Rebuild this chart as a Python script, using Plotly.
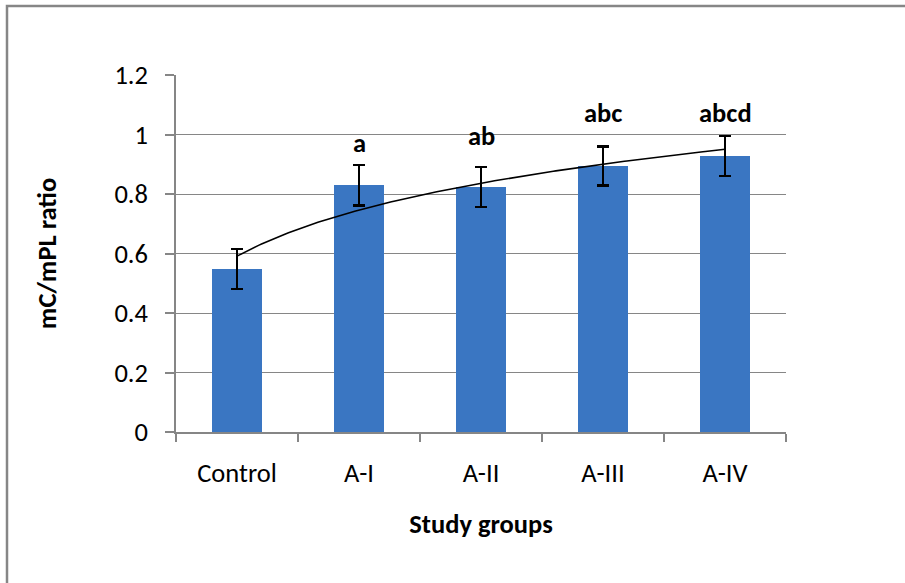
import numpy as np
import plotly.graph_objects as go

categories = ["Control", "A-I", "A-II", "A-III", "A-IV"]
values = [0.548, 0.830, 0.824, 0.894, 0.928]
errors = [0.067, 0.068, 0.067, 0.066, 0.067]
letters = ["", "a", "ab", "abc", "abcd"]
letter_y = [None, 0.97, 0.995, 1.072, 1.072]
ytick_vals = [0, 0.2, 0.4, 0.6, 0.8, 1.0, 1.2]
ytick_text = ["0", "0.2", "0.4", "0.6", "0.8", "1", "1.2"]

FONT = "Carlito, Calibri, Lato, sans-serif"
FS = 26.5
GRAY = "#868686"

xpos = list(range(len(categories)))

# logarithmic trendline (Excel style), fitted to the bar values
a, b = np.polyfit(np.log(np.array(xpos) + 1.0), np.array(values), 1)
xt = np.linspace(0, len(categories) - 1, 200)
yt = a * np.log(xt + 1.0) + b

fig = go.Figure()
fig.add_trace(go.Bar(
    x=xpos, y=values, width=0.41,
    marker=dict(color="#3a76c2", line=dict(width=0)),
    error_y=dict(type="data", array=errors, visible=True,
                 color="black", thickness=2.5, width=6),
    showlegend=False,
))
fig.add_trace(go.Scatter(
    x=xt, y=yt, mode="lines", line=dict(color="black", width=1.6),
    showlegend=False, hoverinfo="skip",
))
# invisible trace on xaxis2 for boundary tick marks
fig.add_trace(go.Scatter(x=[-0.5, 4.5], y=[0, 0], xaxis="x2", mode="markers",
                         marker=dict(opacity=0), showlegend=False, hoverinfo="skip"))

for i, (t, ly) in enumerate(zip(letters, letter_y)):
    if t:
        fig.add_annotation(x=i, y=ly, text="<b>%s</b>" % t, showarrow=False,
                           font=dict(family=FONT, size=FS, color="black"),
                           xref="x", yref="y")

fig.update_layout(
    width=905, height=583,
    margin=dict(l=176, r=119, t=75, b=151),
    paper_bgcolor="white", plot_bgcolor="white",
    font=dict(family=FONT, size=FS, color="black"),
    bargap=0,
    xaxis=dict(range=[-0.5, 4.5], tickvals=xpos, ticktext=categories,
               ticks="", showgrid=False, zeroline=False, showline=False,
               ticklabelstandoff=22,
               title=dict(text="<b>Study groups</b>", standoff=26,
                          font=dict(family=FONT, size=FS))),
    xaxis2=dict(range=[-0.5, 4.5], overlaying="x", anchor="y", side="bottom",
                tickvals=[-0.5, 0.5, 1.5, 2.5, 3.5, 4.5], showticklabels=False,
                ticks="outside", ticklen=8, tickwidth=1.5, tickcolor=GRAY,
                showgrid=False, zeroline=False, showline=True,
                linecolor=GRAY, linewidth=1.5),
    yaxis=dict(range=[0, 1.2], tickvals=ytick_vals, ticktext=ytick_text,
               ticks="outside", ticklen=9, tickwidth=1.5, tickcolor=GRAY,
               showgrid=True, gridcolor=GRAY, gridwidth=1.3,
               zeroline=False, showline=True, linecolor=GRAY, linewidth=1.5,
               ticklabelstandoff=12,
               title=dict(text="<b>mC/mPL ratio</b>", standoff=50,
                          font=dict(family=FONT, size=FS))),
    shapes=[dict(type="rect", xref="paper", yref="paper",
                 x0=(7 - 176) / 610, x1=(920 - 176) / 610,
                 y0=(432 - 600) / 357, y1=(432 - 6) / 357,
                 line=dict(color=GRAY, width=2.5), layer="below")],
)

fig.write_html("out.html", config={"displayModeBar": False},
               post_script="document.body.style.margin='0';")
